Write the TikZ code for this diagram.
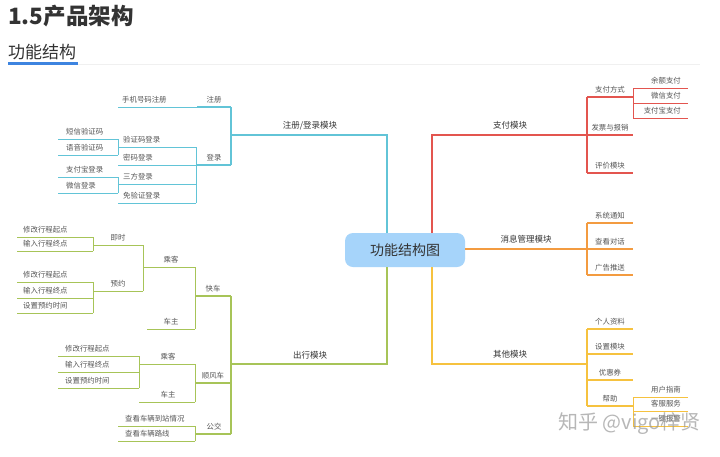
\documentclass[tikz,border=0pt]{standalone}
\usepackage{fontspec}
\setmainfont{Noto Sans CJK SC}
\definecolor{cT}{HTML}{62C4D7}
\definecolor{cR}{HTML}{E3554F}
\definecolor{cO}{HTML}{F39B40}
\definecolor{cY}{HTML}{F6C23F}
\definecolor{cG}{HTML}{A7C458}
\definecolor{rootfill}{HTML}{A6D4FA}
\definecolor{txt}{HTML}{555555}
\definecolor{txtd}{HTML}{333333}
\definecolor{ulblue}{HTML}{3D84E0}
\tikzset{
  lbl/.style={font=\fontsize{7.4}{8}\selectfont, text=txt, inner sep=0pt},
  mlbl/.style={font=\fontsize{8.5}{10}\selectfont, text=txtd, inner sep=0pt},
  l1/.style={line width=1.8pt},
  l2/.style={line width=1.3pt},
  l3/.style={line width=1pt},
  l4/.style={line width=0.8pt},
}
\begin{document}
\begin{tikzpicture}[x=1pt,y=-1pt]
\fill[white] (0,0) rectangle (720,456);
\useasboundingbox (0,0) rectangle (720,456);
% headings
\node[anchor=west, inner sep=0pt, text=txtd, font=\fontsize{22.5}{24}\selectfont\bfseries] (title) at (8,16) {1.5产品架构};
\node[anchor=west, inner sep=0pt, text=txtd, font=\fontsize{17}{19}\selectfont] (sub) at (8,52) {功能结构};
\draw[black!6, line width=1pt] (78,64) -- (700,64);
\draw[ulblue, line width=2.5pt] (8,63.5) -- (78,63.5);
% root
\node[draw=none, fill=rootfill, rounded corners=8pt, minimum width=120pt, minimum height=34pt, inner sep=0pt, font=\fontsize{14}{16}\selectfont, text=txtd] (root) at (405,250) {功能结构图};

% ===== teal: 注册/登录模块 =====
\draw[cT,l1] (387,233) -- (387,135) -- (231,135);
\node[mlbl] (reglogin) at (310,125.5) {注册/登录模块};
\draw[cT,l2] (231,107) -- (231,165);
\draw[cT,l2] (231,107) -- (197,107);
\draw[cT,l2] (231,165) -- (196,165);
\node[lbl] (reg) at (214,99.5) {注册};
\node[lbl] (login) at (214,157.5) {登录};
\draw[cT,l3] (197,107) -- (118,107);
\node[lbl,anchor=west] (phone) at (122,99.5) {手机号码注册};
\draw[cT,l3] (196,147) -- (196,203);
\draw[cT,l3] (196,147) -- (118,147);
\draw[cT,l3] (196,165) -- (118,165);
\draw[cT,l3] (196,184) -- (118,184);
\draw[cT,l3] (196,203) -- (118,203);
\node[lbl,anchor=west] (vcode) at (123,139.5) {验证码登录};
\node[lbl,anchor=west] (pwd) at (123,157.5) {密码登录};
\node[lbl,anchor=west] (third) at (123,176.5) {三方登录};
\node[lbl,anchor=west] (novc) at (123,195.5) {免验证登录};
\draw[cT,l4] (118,139) -- (118,155);
\draw[cT,l4] (118,139) -- (58,139);
\draw[cT,l4] (118,155) -- (58,155);
\node[lbl,anchor=west] (sms) at (66,131.5) {短信验证码};
\node[lbl,anchor=west] (voice) at (66,147.5) {语音验证码};
\draw[cT,l4] (118,177) -- (118,193);
\draw[cT,l4] (118,177) -- (58,177);
\draw[cT,l4] (118,193) -- (58,193);
\node[lbl,anchor=west] (alipaylogin) at (66,169.5) {支付宝登录};
\node[lbl,anchor=west] (wxlogin) at (66,185.5) {微信登录};

% ===== red: 支付模块 =====
\draw[cR,l1] (432,233) -- (432,135) -- (587,135);
\node[mlbl] (pay) at (510,125.5) {支付模块};
\draw[cR,l2] (587,97) -- (587,173);
\draw[cR,l2] (587,97) -- (633,97);
\draw[cR,l2] (587,135) -- (633,135);
\draw[cR,l2] (587,173) -- (633,173);
\node[lbl] (payway) at (610,89.5) {支付方式};
\node[lbl] (invoice) at (610,127.5) {发票与报销};
\node[lbl] (review) at (610,165.5) {评价模块};
\draw[cR,l4] (633,88) -- (633,118);
\draw[cR,l4] (633,88) -- (688,88);
\draw[cR,l4] (633,103) -- (688,103);
\draw[cR,l4] (633,118) -- (688,118);
\node[lbl,anchor=east] (balance) at (681,80.5) {余额支付};
\node[lbl,anchor=east] (wxpay) at (681,95.5) {微信支付};
\node[lbl,anchor=east] (alipay) at (681,110.5) {支付宝支付};

% ===== orange: 消息管理模块 =====
\draw[cO,l1] (root.east |- 0,249) -- (587,249);
\node[mlbl] (msg) at (526,239.5) {消息管理模块};
\draw[cO,l2] (587,223) -- (587,275);
\draw[cO,l2] (587,223) -- (633,223);
\draw[cO,l2] (587,249) -- (633,249);
\draw[cO,l2] (587,275) -- (633,275);
\node[lbl] (sysnote) at (610,215.5) {系统通知};
\node[lbl] (chat) at (610,241.5) {查看对话};
\node[lbl] (ads) at (610,267.5) {广告推送};

% ===== yellow: 其他模块 =====
\draw[cY,l1] (432,267) -- (432,364) -- (587,364);
\node[mlbl] (other) at (510,354.5) {其他模块};
\draw[cY,l2] (587,329) -- (587,406);
\draw[cY,l2] (587,329) -- (633,329);
\draw[cY,l2] (587,354) -- (633,354);
\draw[cY,l2] (587,380) -- (633,380);
\draw[cY,l2] (587,406) -- (633,406);
\node[lbl] (profile) at (610,321.5) {个人资料};
\node[lbl] (settings) at (610,346.5) {设置模块};
\node[lbl] (coupon) at (610,372.5) {优惠券};
\node[lbl] (help) at (610,398.5) {帮助};
\draw[cY,l4] (633,397) -- (633,426);
\draw[cY,l4] (633,397) -- (688,397);
\draw[cY,l4] (633,411) -- (688,411);
\draw[cY,l4] (633,426) -- (688,426);
\node[lbl,anchor=east] (guide) at (681,389.5) {用户指南};
\node[lbl,anchor=east] (service) at (681,403.5) {客服服务};
\node[lbl,anchor=east] (sos) at (681,418.5) {一键报警};

% ===== green: 出行模块 =====
\draw[cG,l1] (387,267) -- (387,364) -- (231,364);
\node[mlbl] (travel) at (310,355.5) {出行模块};
\draw[cG,l2] (231,296) -- (231,434);
\draw[cG,l2] (231,296) -- (195,296);
\draw[cG,l2] (231,383) -- (195,383);
\draw[cG,l2] (231,434) -- (195,434);
\node[lbl] (express) at (213,288.5) {快车};
\node[lbl] (hitch) at (213,375.5) {顺风车};
\node[lbl] (bus) at (214,426.5) {公交};
% 快车
\draw[cG,l3] (195,267) -- (195,329);
\draw[cG,l3] (195,267) -- (143,267);
\draw[cG,l3] (195,329) -- (147,329);
\node[lbl] (pass1) at (171,259.5) {乘客};
\node[lbl] (drv1) at (171,321.5) {车主};
\draw[cG,l3] (143,245) -- (143,291);
\draw[cG,l3] (143,245) -- (93,245);
\draw[cG,l3] (143,291) -- (93,291);
\node[lbl] (instant) at (118,237.5) {即时};
\node[lbl] (book) at (118,283.5) {预约};
\draw[cG,l4] (93,237) -- (93,251);
\draw[cG,l4] (93,237) -- (17,237);
\draw[cG,l4] (93,251) -- (17,251);
\node[lbl,anchor=west] (ia) at (23,229.5) {修改行程起点};
\node[lbl,anchor=west] (ib) at (23,243.5) {输入行程终点};
\draw[cG,l4] (93,282) -- (93,313);
\draw[cG,l4] (93,282) -- (17,282);
\draw[cG,l4] (93,298) -- (17,298);
\draw[cG,l4] (93,313) -- (17,313);
\node[lbl,anchor=west] (ba) at (23,274.5) {修改行程起点};
\node[lbl,anchor=west] (bb) at (23,290.5) {输入行程终点};
\node[lbl,anchor=west] (bc) at (23,305.5) {设置预约时间};
% 顺风车
\draw[cG,l3] (195,364) -- (195,402);
\draw[cG,l3] (195,364) -- (139,364);
\draw[cG,l3] (195,402) -- (139,402);
\node[lbl] (pass2) at (168,356.5) {乘客};
\node[lbl] (drv2) at (168,394.5) {车主};
\draw[cG,l4] (139,356) -- (139,388);
\draw[cG,l4] (139,356) -- (58,356);
\draw[cG,l4] (139,372) -- (58,372);
\draw[cG,l4] (139,388) -- (58,388);
\node[lbl,anchor=west] (ha) at (65,348.5) {修改行程起点};
\node[lbl,anchor=west] (hb) at (65,364.5) {输入行程终点};
\node[lbl,anchor=west] (hc) at (65,380.5) {设置预约时间};
% 公交
\draw[cG,l3] (195,426) -- (195,441);
\draw[cG,l3] (195,426) -- (118,426);
\draw[cG,l3] (195,441) -- (118,441);
\node[lbl,anchor=west] (arrive) at (125,418.5) {查看车辆到站情况};
\node[lbl,anchor=west] (route) at (125,433.5) {查看车辆路线};

% watermark
\node[anchor=west, inner sep=0pt, text=black!40, opacity=0.7, font=\fontsize{20}{22}\selectfont] (wm) at (558,424) {知乎 @vigo梓贤};
\end{tikzpicture}
\end{document}
